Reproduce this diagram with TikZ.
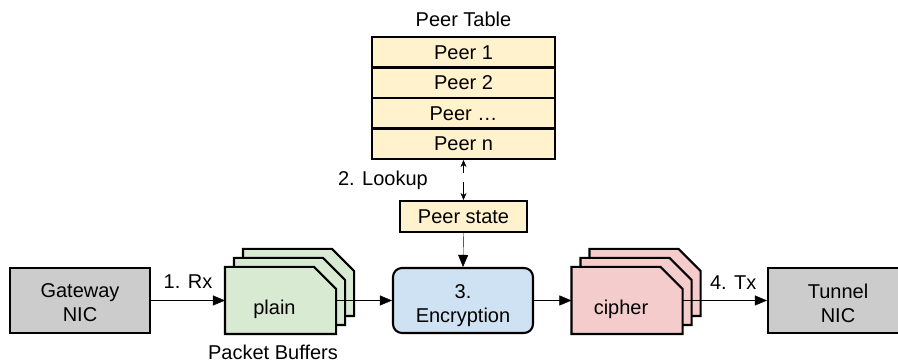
\documentclass[tikz,border=0pt]{standalone}
\usepackage{fontspec}
\setmainfont{Liberation Sans}
\usetikzlibrary{arrows.meta,backgrounds,calc}

\definecolor{nicgray}{HTML}{CCCCCC}
\definecolor{plaingreen}{HTML}{D9EAD3}
\definecolor{cipherpink}{HTML}{F4CCCC}
\definecolor{encblue}{HTML}{CFE2F3}
\definecolor{peeryellow}{HTML}{FFF2CC}

% Packet buffer card: rectangle with a cut top-right corner, drawn around a node
\newcommand\drawcard[2]{%
  \draw[cardline, fill=#2] (#1.north west)
    -- ($(#1.north east)+(-22,0)$)
    -- ($(#1.north east)+(0,22)$)
    -- (#1.south east) -- (#1.south west) -- cycle;}

\begin{document}
\begin{tikzpicture}[x=1pt, y=-1pt,
  font=\fontsize{20}{24}\selectfont,
  line width=2.1pt,
  boxtext/.style={align=center, inner sep=0pt},
  nic/.style={draw, fill=nicgray, minimum width=140pt, minimum height=65pt,
    inner sep=0pt},
  card/.style={minimum width=109pt, minimum height=65pt, inner sep=0pt},
  cardtext/.style={xshift=-6pt, yshift=-9pt},
  cardline/.style={draw=black, line width=2.1pt, line join=miter},
  peerrow/.style={draw, fill=peeryellow, minimum width=183pt,
    minimum height=30.5pt, inner sep=0pt},
  flow/.style={-{Triangle[length=12pt,width=10pt]}},
  lookup/.style={-{Stealth[length=7pt,width=6pt]}},
  steplabel/.style={inner sep=0pt}]

\useasboundingbox (0,0) rectangle (898,363);
\clip (0,0) rectangle (898,363);

% Network interfaces
\node[nic, label={[boxtext, yshift=-2.5pt]center:Gateway\\NIC}] (gw) at (80,300.5) {};
\node[nic, label={[boxtext, yshift=-2.5pt]center:Tunnel\\NIC}] (tun) at (838,300.5) {};

% Plaintext packet buffers (stack of three cards)
\node[card] (plainC) at (298.5,282.5) {};
\node[card] (plainB) at (289.5,291.5) {};
\node[card, label={[cardtext]center:plain}] (plain) at (280.5,300.5) {};
\node (pblabel) at (273,352.5) {Packet Buffers};

% Ciphertext packet buffers
\node[card] (cipherC) at (645,282.5) {};
\node[card] (cipherB) at (636,291.5) {};
\node[card, label={[cardtext]center:cipher}] (cipher) at (627,300.5) {};

% Encryption stage
\node[draw, fill=encblue, rounded corners=9pt, minimum width=140pt,
  minimum height=65pt, inner sep=0pt,
  label={[boxtext, yshift=-5pt]center:3.\\Encryption}] (enc) at (463,300.5) {};

% Peer table
\node (tlabel) at (463.5,19.5) {Peer Table};
\node[peerrow] (p1) at (463.5,52.25) {Peer 1};
\node[peerrow] (p2) at (463.5,82.75) {Peer 2};
\node[peerrow] (p3) at (463.5,113.25) {Peer …};
\node[peerrow] (p4) at (463.5,143.75) {Peer n};
\node[peerrow, minimum width=127pt, minimum height=31pt] (state)
  at (463.5,216.5) {Peer state};

% Card outlines go behind the node texts
\begin{pgfonlayer}{background}
  \drawcard{plainC}{plaingreen}
  \drawcard{plainB}{plaingreen}
  \drawcard{plain}{plaingreen}
  \drawcard{cipherC}{cipherpink}
  \drawcard{cipherB}{cipherpink}
  \drawcard{cipher}{cipherpink}
\end{pgfonlayer}

% Lookup between peer table and peer state
\coordinate (lkup) at (463.5,173);
\coordinate (lkdn) at (463.5,182);
\draw[lookup] (lkup) -- (p4.south);
\draw[lookup] (lkdn) -- (state.north);
\node[steplabel, anchor=east] (lklabel) at (428,180) {2. Lookup};

% Packet flow
\draw[flow] (gw.east) -- node[steplabel, above=12pt] (rx) {1. Rx} (plain.west);
\draw[flow] (plain.east) -- (enc.west);
\draw[flow] (state.south) -- (enc.north);
\draw[flow] (enc.east) -- (cipher.west);
\draw[flow] (cipher.east) -- node[steplabel, pos=0.6, above=11pt] (tx) {4. Tx} (tun.west);

\end{tikzpicture}
\end{document}
